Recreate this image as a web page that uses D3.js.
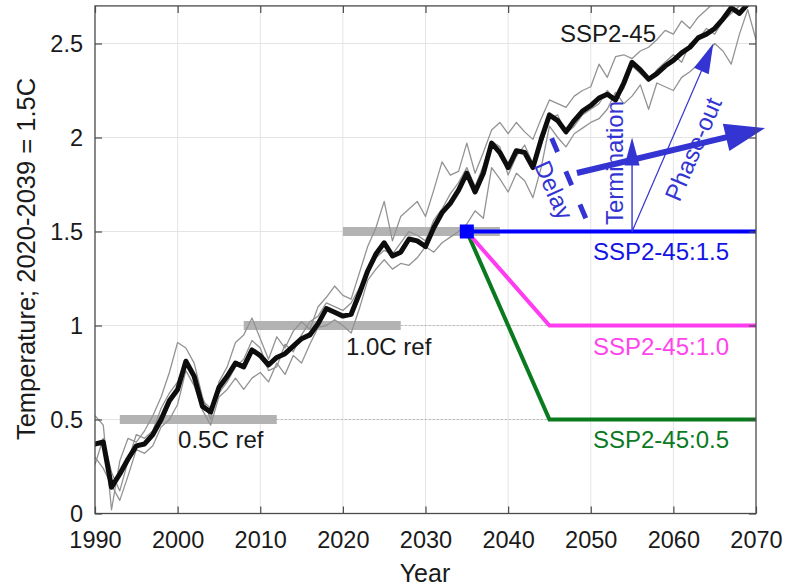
<!DOCTYPE html>
<html><head><meta charset="utf-8">
<script src="https://cdn.jsdelivr.net/npm/d3@7"></script>
<style>
html,body{margin:0;padding:0;background:#fff;}
svg{display:block;font-family:"Liberation Sans",Arial,Helvetica,sans-serif;}
</style></head>
<body><svg id="chart" width="785" height="587"></svg>
<script>
// ---------- data ----------
const years = d3.range(1990, 2071);
const ensembleMean = [0.37,0.38,0.14,0.21,0.29,0.36,0.37,0.42,0.50,0.60,
  0.66,0.81,0.73,0.57,0.54,0.67,0.73,0.80,0.78,0.87,
  0.84,0.79,0.83,0.85,0.89,0.93,0.95,1.01,1.09,1.07,
  1.05,1.06,1.17,1.29,1.38,1.44,1.37,1.39,1.46,1.45,
  1.42,1.52,1.60,1.65,1.72,1.81,1.71,1.81,1.97,1.92,
  1.84,1.93,1.92,1.84,1.99,2.12,2.09,2.03,2.09,2.14,
  2.17,2.21,2.23,2.20,2.29,2.40,2.36,2.31,2.34,2.38,
  2.41,2.45,2.48,2.53,2.55,2.58,2.63,2.69,2.66,2.71,2.74];
const member1 = [0.52,0.47,0.02,0.28,0.40,0.38,0.44,0.52,0.62,0.75,
  0.91,0.88,0.80,0.62,0.50,0.70,0.78,0.91,0.95,1.04,
  0.93,0.82,0.94,0.88,0.97,1.02,0.98,1.10,1.15,1.21,
  1.16,1.14,1.28,1.42,1.52,1.66,1.45,1.58,1.62,1.66,
  1.58,1.72,1.87,1.80,1.82,1.97,1.81,1.92,2.04,2.08,
  2.02,2.08,2.03,1.99,2.10,2.20,2.18,2.16,2.22,2.25,
  2.27,2.39,2.32,2.43,2.44,2.42,2.46,2.48,2.52,2.57,
  2.55,2.62,2.58,2.64,2.68,2.72,2.70,2.75,2.72,2.78,2.76];
const member2 = [0.30,0.24,0.15,0.07,0.20,0.34,0.32,0.36,0.46,0.50,
  0.58,0.76,0.68,0.55,0.47,0.62,0.66,0.72,0.66,0.72,
  0.75,0.70,0.80,0.74,0.84,0.80,0.90,0.99,1.00,1.03,
  1.00,0.96,1.09,1.24,1.30,1.35,1.30,1.33,1.32,1.36,
  1.42,1.39,1.44,1.47,1.50,1.54,1.61,1.57,1.84,1.78,
  1.71,1.81,1.77,1.68,1.84,2.06,2.00,1.95,2.02,2.05,
  2.08,2.10,2.15,2.24,2.18,2.22,2.28,2.15,2.29,2.27,
  2.25,2.32,2.35,2.39,2.44,2.50,2.46,2.39,2.55,2.68,2.52];
const member3 = [0.26,0.40,0.22,0.12,0.28,0.42,0.40,0.44,0.56,0.64,
  0.70,0.82,0.72,0.60,0.56,0.64,0.70,0.78,0.82,0.92,
  0.88,0.76,0.78,0.90,0.86,0.95,1.02,1.05,1.12,1.10,
  1.08,1.12,1.20,1.28,1.36,1.40,1.38,1.44,1.50,1.48,
  1.45,1.56,1.62,1.70,1.76,1.84,1.74,1.85,1.98,1.95,
  1.80,1.90,1.96,1.86,1.96,2.10,2.12,2.02,2.06,2.12,
  2.15,2.18,2.25,2.20,2.26,2.38,2.34,2.30,2.36,2.40,
  2.44,2.40,2.50,2.52,2.58,2.55,2.62,2.66,2.70,2.72,2.75];

const refBars = [
  {start: 1993, end: 2012, value: 0.5},
  {start: 2008, end: 2027, value: 1.0},
  {start: 2020, end: 2039, value: 1.5}];
const refDotted = [{start: 2012, value: 0.5}, {start: 2027, value: 1.0}];

const scenarioStart = {year: 2035, value: 1.5};
const scen15 = [[2035, 1.5], [2070, 1.5]];
const scen10 = [[2035, 1.5], [2045, 1.0], [2070, 1.0]];
const scen05 = [[2035, 1.5], [2045, 0.5], [2070, 0.5]];

const xTicks = [1990, 2000, 2010, 2020, 2030, 2040, 2050, 2060, 2070];
const yTicks = [0, 0.5, 1, 1.5, 2, 2.5];

// ---------- layout ----------
const svg = d3.select("#chart");
const L = 95, R = 756, T = 5.9, B = 513.5;
const x = d3.scaleLinear().domain([1990, 2070]).range([L, R]);
const y = d3.scaleLinear().domain([0, 2.7]).range([B, T]);

const C = {
  grid: "#e4e4e4", frame: "#4a4a4a", bar: "#b3b3b3", member: "#939393",
  mean: "#0d0d0d", blue: "#0000ff", magenta: "#ff3cf0", green: "#0a7a1e",
  anno: "#3434d2", text: "#1a1a1a"
};

svg.append("defs").append("clipPath").attr("id", "plotclip")
  .append("rect").attr("x", L).attr("y", T).attr("width", R - L).attr("height", B - T);

// gridlines
const g = svg.append("g");
g.selectAll(".vg").data(xTicks.slice(1, -1)).join("line")
  .attr("x1", d => x(d)).attr("x2", d => x(d)).attr("y1", T).attr("y2", B)
  .attr("stroke", C.grid).attr("stroke-width", 1);
g.selectAll(".hg").data(yTicks.slice(1)).join("line")
  .attr("x1", L).attr("x2", R).attr("y1", d => y(d)).attr("y2", d => y(d))
  .attr("stroke", C.grid).attr("stroke-width", 1);

// dotted reference extensions
g.selectAll(".dot").data(refDotted).join("line")
  .attr("x1", d => x(d.start)).attr("x2", x(2070))
  .attr("y1", d => y(d.value)).attr("y2", d => y(d.value))
  .attr("stroke", "#b8b8b8").attr("stroke-width", 1).attr("stroke-dasharray", "2,2");

// reference bars
g.selectAll(".bar").data(refBars).join("rect")
  .attr("x", d => x(d.start)).attr("width", d => x(d.end) - x(d.start))
  .attr("y", d => y(d.value) - 4.5).attr("height", 9)
  .attr("fill", C.bar);

// members and mean
const line = d3.line().x((d, i) => x(years[i])).y(d => y(d));
const lines = svg.append("g").attr("clip-path", "url(#plotclip)");
[member1, member2, member3].forEach(m => {
  lines.append("path").attr("d", line(m)).attr("fill", "none")
    .attr("stroke", C.member).attr("stroke-width", 1.3).attr("stroke-linejoin", "round");
});
lines.append("path").attr("d", line(ensembleMean)).attr("fill", "none")
  .attr("stroke", C.mean).attr("stroke-width", 5)
  .attr("stroke-linejoin", "round").attr("stroke-linecap", "round");

// scenario lines
const sline = d3.line().x(d => x(d[0])).y(d => y(d[1]));
[[scen05, C.green], [scen10, C.magenta], [scen15, C.blue]].forEach(([s, c]) => {
  svg.append("path").attr("d", sline(s)).attr("fill", "none")
    .attr("stroke", c).attr("stroke-width", 4).attr("stroke-linejoin", "miter");
});
svg.append("rect")
  .attr("x", x(scenarioStart.year) - 7).attr("y", y(scenarioStart.value) - 7)
  .attr("width", 14).attr("height", 14).attr("fill", C.blue);

// ---------- annotations ----------
function arrow(p0, p1, shaftW, headL, headW, color) {
  const X0 = x(p0[0]), Y0 = y(p0[1]), X1 = x(p1[0]), Y1 = y(p1[1]);
  const dx = X1 - X0, dy = Y1 - Y0, len = Math.hypot(dx, dy);
  const ux = dx / len, uy = dy / len, px = -uy, py = ux;
  const bx = X1 - ux * headL, by = Y1 - uy * headL;
  svg.append("line").attr("x1", X0).attr("y1", Y0).attr("x2", bx + ux * 2).attr("y2", by + uy * 2)
    .attr("stroke", color).attr("stroke-width", shaftW);
  svg.append("path").attr("d",
    `M${X1},${Y1}L${bx + px * headW / 2},${by + py * headW / 2}L${bx - px * headW / 2},${by - py * headW / 2}Z`)
    .attr("fill", color);
}
// delay dashed line
svg.append("line")
  .attr("x1", x(2045.27)).attr("y1", y(1.996)).attr("x2", x(2049.5)).attr("y2", y(1.56))
  .attr("stroke", C.anno).attr("stroke-width", 5).attr("stroke-dasharray", "15,21");
arrow([2055, 1.5], [2055, 2.0], 1.4, 28, 15, C.anno);
arrow([2055, 1.5], [2064.83, 2.5], 1.2, 30, 16, C.anno);
arrow([2048.33, 1.811], [2071.09, 2.05], 6, 40, 28, C.anno);

const fs = 24;
function rlabel(txt, cx, cy, ang, col) {
  svg.append("text").attr("transform", `translate(${cx},${cy}) rotate(${ang})`)
    .attr("text-anchor", "middle").attr("dy", "0.36em")
    .attr("font-size", fs).attr("fill", col).text(txt);
}
rlabel("Delay", 554, 190, 66, C.anno);
rlabel("Termination", 614, 163, -90, C.anno);
rlabel("Phase-out", 693, 149, -67, C.anno);

const labels = [
  {t: "SSP2-45", yr: 2046.28, v: 2.508, c: C.text},
  {t: "SSP2-45:1.5", yr: 2050.27, v: 1.348, c: "#1414e6"},
  {t: "SSP2-45:1.0", yr: 2050.27, v: 0.843, c: "#ff44ee"},
  {t: "SSP2-45:0.5", yr: 2050.27, v: 0.346, c: "#0b7a22"},
  {t: "0.5C ref", yr: 2000.05, v: 0.346, c: C.text},
  {t: "1.0C ref", yr: 2020.38, v: 0.843, c: C.text}];
svg.selectAll(".lab").data(labels).join("text")
  .attr("x", d => x(d.yr)).attr("y", d => y(d.v))
  .attr("font-size", fs).attr("fill", d => d.c).text(d => d.t);

// ---------- axes ----------
function styleAxis(sel) {
  sel.select(".domain").remove();
  sel.selectAll(".tick line").attr("stroke", C.frame).attr("stroke-width", 1.2);
  sel.selectAll(".tick text").attr("fill", C.text).attr("font-size", 23.5)
    .attr("font-family", '"Liberation Sans",Arial,sans-serif');
}
svg.append("g").attr("transform", `translate(0,${B})`)
  .call(d3.axisBottom(x).tickValues(xTicks).tickFormat(d3.format("d")).tickSize(-7).tickPadding(18))
  .call(styleAxis);
svg.append("g").attr("transform", `translate(0,${T})`)
  .call(d3.axisTop(x).tickValues(xTicks).tickFormat("").tickSize(-7))
  .call(styleAxis);
svg.append("g").attr("transform", `translate(${L},0)`)
  .call(d3.axisLeft(y).tickValues(yTicks).tickFormat(d3.format("")).tickSize(-7).tickPadding(12))
  .call(styleAxis);
svg.append("g").attr("transform", `translate(${R},0)`)
  .call(d3.axisRight(y).tickValues(yTicks).tickFormat("").tickSize(-7))
  .call(styleAxis);

svg.append("rect").attr("x", L).attr("y", T).attr("width", R - L).attr("height", B - T)
  .attr("fill", "none").attr("stroke", C.frame).attr("stroke-width", 1.3);

svg.append("text").attr("x", (L + R) / 2 - 0.5).attr("y", 582)
  .attr("text-anchor", "middle").attr("font-size", 25).attr("fill", C.text).text("Year");
svg.append("text").attr("transform", "translate(35,259) rotate(-90)")
  .attr("text-anchor", "middle").attr("font-size", 25.5).attr("fill", C.text)
  .text("Temperature; 2020-2039 = 1.5C");
</script></body></html>
